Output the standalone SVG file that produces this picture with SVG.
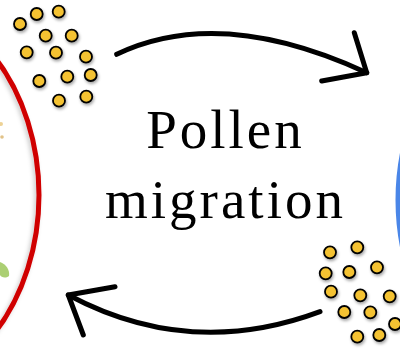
<svg xmlns="http://www.w3.org/2000/svg" width="400" height="349" viewBox="0 0 400 349">
  <defs>
    <filter id="sh" x="-50%" y="-50%" width="200%" height="200%">
      <feDropShadow dx="1" dy="2" stdDeviation="1.5" flood-color="#000" flood-opacity="0.35"/>
    </filter>
    <filter id="esh" x="-20%" y="-20%" width="140%" height="140%">
      <feDropShadow dx="-2" dy="2" stdDeviation="2" flood-color="#000" flood-opacity="0.2"/>
    </filter>
    <style>
      .pollen circle { fill: #F4C232; stroke: #000; stroke-width: 1.8; }
      .arrow { fill: none; stroke: #000; stroke-width: 5; stroke-linecap: round; stroke-linejoin: round; }
      .label { font-family: "Liberation Serif", "Times New Roman", serif; font-size: 55px; letter-spacing: 3px; fill: #000; text-anchor: middle; }
    </style>
  </defs>
  <rect width="400" height="349" fill="#fff"/>

  <g id="left-population">
    <ellipse cx="-121" cy="195" rx="160" ry="200" fill="none" stroke="#D00000" stroke-width="5" filter="url(#esh)"/>
    <circle cx="1" cy="124" r="2" fill="#E8C77A" opacity="0.8"/>
    <circle cx="2" cy="137" r="1.8" fill="#D9B36A" opacity="0.8"/>
    <path d="M0,262 C6,264 10,270 9,276 C5,279 1,277 0,275 Z" fill="#9CC75A" opacity="0.85"/>
  </g>

  <g id="right-population">
    <ellipse cx="560" cy="200" rx="162" ry="200" fill="none" stroke="#4A86E8" stroke-width="5"/>
  </g>

  <g id="pollen-top-left" class="pollen" filter="url(#sh)">
    <circle cx="20" cy="24" r="6"/>
    <circle cx="36.7" cy="14" r="6"/>
    <circle cx="58.7" cy="11.7" r="6"/>
    <circle cx="45.7" cy="35.7" r="6"/>
    <circle cx="71.7" cy="35.7" r="6"/>
    <circle cx="26.7" cy="52.3" r="6"/>
    <circle cx="56" cy="52.7" r="6"/>
    <circle cx="86" cy="56.7" r="6"/>
    <circle cx="39.3" cy="81" r="6"/>
    <circle cx="67.3" cy="76.7" r="6"/>
    <circle cx="90.7" cy="75" r="6"/>
    <circle cx="59" cy="100.7" r="6"/>
    <circle cx="86.3" cy="96.7" r="6"/>
  </g>

  <g id="pollen-bottom-right" class="pollen" filter="url(#sh)">
    <circle cx="330" cy="252.3" r="6"/>
    <circle cx="357.3" cy="247.3" r="6"/>
    <circle cx="325.7" cy="273.3" r="6"/>
    <circle cx="349.3" cy="272" r="6"/>
    <circle cx="377" cy="267.3" r="6"/>
    <circle cx="331" cy="291.7" r="6"/>
    <circle cx="360.3" cy="295.3" r="6"/>
    <circle cx="389.7" cy="296.3" r="6"/>
    <circle cx="344.3" cy="312" r="6"/>
    <circle cx="370.3" cy="312.3" r="6"/>
    <circle cx="395" cy="324" r="6"/>
    <circle cx="357.3" cy="336.7" r="6"/>
    <circle cx="379.3" cy="335" r="6"/>
  </g>

  <g id="connectors">
    <path class="arrow" d="M116.7,54.3 Q220,5 366.7,72.7"/>
    <path class="arrow" d="M354.3,32.7 L366.7,72.7 L321.7,81"/>
    <path class="arrow" d="M320,311.7 Q190,360 68.3,295"/>
    <path class="arrow" d="M115,286.7 L68.3,295 L83.3,335"/>
  </g>

  <g id="label">
    <text class="label" x="225.5" y="148.3">Pollen</text>
    <text class="label" x="225.5" y="218.3">migration</text>
  </g>
</svg>
